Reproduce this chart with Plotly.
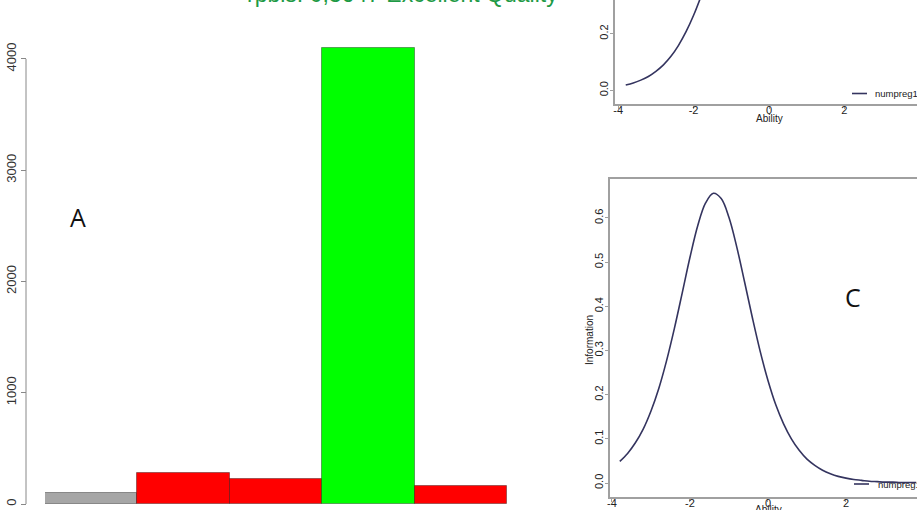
import plotly.graph_objects as go

W, H = 917, 510

# ---- Panel A: option counts ----
options = ["NA", "A", "B", "C", "D"]
counts = [96, 281, 229, 4099, 165]
bar_colors = ["#a6a6a6", "#ff0000", "#ff0000", "#00ff00", "#ff0000"]
count_ticks = [0, 1000, 2000, 3000, 4000]

# ---- Item curves ----
ability = [-3.8, -3.6, -3.4, -3.2, -3.0, -2.8, -2.6, -2.4, -2.2, -2.0,
           -1.8, -1.6, -1.4, -1.2, -1.0, -0.8, -0.6, -0.4, -0.2, 0.0,
           0.2, 0.4, 0.6, 0.8, 1.0, 1.2, 1.4, 1.6, 1.8, 2.0,
           2.2, 2.4, 2.6, 2.8, 3.0, 3.2, 3.4, 3.6, 3.8]
icc = [0.019, 0.026, 0.036, 0.049, 0.067, 0.090, 0.120, 0.159, 0.207, 0.265,
       0.333, 0.408, 0.488, 0.568, 0.646, 0.716, 0.777, 0.828, 0.869, 0.902,
       0.927, 0.946, 0.961, 0.971, 0.979, 0.985, 0.989, 0.992, 0.994, 0.996,
       0.997, 0.998, 0.998, 0.999, 0.999, 0.999, 1.000, 1.000, 1.000]
info = [0.049, 0.067, 0.091, 0.122, 0.163, 0.214, 0.277, 0.350, 0.430, 0.511,
        0.583, 0.634, 0.656, 0.644, 0.601, 0.534, 0.455, 0.374, 0.298, 0.232,
        0.177, 0.134, 0.100, 0.074, 0.054, 0.040, 0.029, 0.021, 0.015, 0.011,
        0.008, 0.006, 0.004, 0.003, 0.002, 0.002, 0.001, 0.001, 0.001]
ability_ticks = [-4, -2, 0, 2, 4]
ability_labels = ["-4", "-2", "0", "2", "4"]
icc_ticks = [0.0, 0.2, 0.4, 0.6, 0.8, 1.0]
info_ticks = [0.0, 0.1, 0.2, 0.3, 0.4, 0.5, 0.6]

title_text = "rpbis: 0,3647 Excellent Quality"
legend_label = "numpreg114"

CURVE = "#34345f"
AXIS = "#a0a0a0"
FONT = "Liberation Sans, Arial, sans-serif"


def px(x):
    return x / W


def py(y):
    return 1 - y / H


fig = go.Figure()

fig.add_trace(go.Bar(
    x=options, y=counts, marker=dict(color=bar_colors, line=dict(color="rgba(0,0,0,0.35)", width=1)),
    xaxis="x", yaxis="y", showlegend=False))

fig.add_trace(go.Scatter(
    x=ability, y=icc, mode="lines", line=dict(color=CURVE, width=1.6, shape="spline"),
    xaxis="x2", yaxis="y2", showlegend=False))

fig.add_trace(go.Scatter(
    x=ability, y=info, mode="lines", line=dict(color=CURVE, width=1.6, shape="spline"),
    xaxis="x3", yaxis="y3", showlegend=False))

tickfont_small = dict(family=FONT, size=11, color="#222")

fig.update_layout(
    width=W, height=H, margin=dict(l=0, r=0, t=0, b=0, autoexpand=False),
    paper_bgcolor="white", plot_bgcolor="white",
    bargap=0,
    xaxis=dict(domain=[px(45), px(507)], range=[-0.5, 4.5], visible=False, automargin=False),
    yaxis=dict(domain=[py(504), 1], range=[0, 4530], anchor="free", position=px(26),
               tickvals=count_ticks, ticks="outside", ticklen=5, tickcolor="#888",
               tickangle=-90, tickfont=dict(family=FONT, size=13, color="#333"),
               showgrid=False, zeroline=False, showline=False, ticklabelstandoff=0,
               automargin=False),
    xaxis2=dict(domain=[px(615), 1], range=[-4.085, 3.926], anchor="y2",
                tickvals=ability_ticks, ticktext=ability_labels, ticks="outside", ticklen=3,
                tickcolor=AXIS, tickfont=tickfont_small, showline=True, linecolor=AXIS,
                linewidth=2, showgrid=False, zeroline=False, ticklabelstandoff=-8, automargin=False),
    yaxis2=dict(domain=[py(104), 1], range=[-0.0484, 0.3191], anchor="x2",
                tickvals=icc_ticks, tickformat=".1f", ticks="outside", ticklen=3, tickcolor=AXIS,
                tickangle=-90, tickfont=tickfont_small, showline=True, linecolor=AXIS,
                linewidth=2, showgrid=False, zeroline=False, ticklabelstandoff=-2, automargin=False),
    xaxis3=dict(domain=[px(610), 1], range=[-4.051, 3.821], anchor="y3",
                tickvals=ability_ticks, ticktext=ability_labels, ticks="outside", ticklen=3,
                tickcolor=AXIS, tickfont=tickfont_small, showline=True, mirror=True,
                linecolor=AXIS, linewidth=2, showgrid=False, zeroline=False, ticklabelstandoff=-8,
                automargin=False),
    yaxis3=dict(domain=[py(497), py(179)], range=[-0.0317, 0.6882], anchor="x3",
                tickvals=info_ticks, tickformat=".1f", ticks="outside", ticklen=3, tickcolor=AXIS,
                tickangle=-90, tickfont=tickfont_small, showline=True, linecolor=AXIS,
                linewidth=2, showgrid=False, zeroline=False, ticklabelstandoff=-2, automargin=False),
)

shapes = [
    # left panel axis line spanning 0..4000 (R style)
    dict(type="line", xref="paper", yref="y", x0=px(26), x1=px(26), y0=count_ticks[0], y1=count_ticks[-1],
         line=dict(color="#888", width=1)),
    # legend samples
    dict(type="line", xref="paper", yref="paper", x0=px(852), x1=px(867), y0=py(93.5), y1=py(93.5),
         line=dict(color=CURVE, width=1.6)),
    dict(type="line", xref="paper", yref="paper", x0=px(854), x1=px(869), y0=py(484), y1=py(484),
         line=dict(color=CURVE, width=1.6)),
]
fig.update_layout(shapes=shapes)


def label(text, x, y, size=10, family=FONT, color="#222", xanchor="center", angle=0):
    return dict(text=text, x=px(x), y=py(y), xref="paper", yref="paper", showarrow=False,
                xanchor=xanchor, yanchor="middle", textangle=angle,
                font=dict(family=family, size=size, color=color))


ann = [
    label(title_text, 402, -6, size=23, color="#1e9a45"),
    label("A", 78, 217, size=25, family="Open Sans, sans-serif", color="#111"),
    label("C", 853, 297, size=25, family="Open Sans, sans-serif", color="#111"),
    label("Ability", 769, 118),
    label("Ability", 768, 509),
    label("Information", 589, 340, angle=-90),
    label(legend_label, 873, 93.5, size=9.5, xanchor="left"),
    label(legend_label, 876, 484, size=9.5, xanchor="left"),
]
fig.update_layout(annotations=ann)

fig.write_html(
    "out.html",
    config={"displayModeBar": False},
    post_script="document.body.style.margin='0';document.body.style.overflow='hidden';",
)
